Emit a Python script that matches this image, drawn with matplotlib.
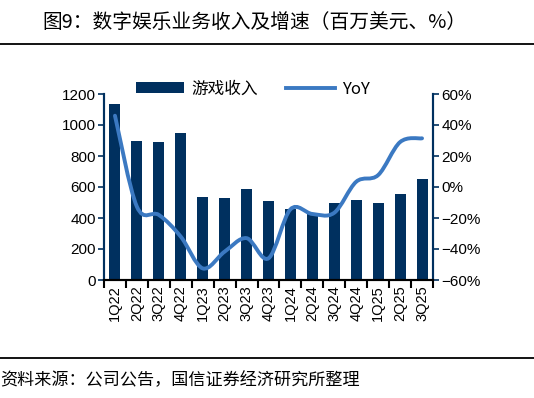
import numpy as np
import matplotlib
matplotlib.use("Agg")
import matplotlib.pyplot as plt
from matplotlib.path import Path
from matplotlib.patches import PathPatch, Patch
from matplotlib.lines import Line2D
from matplotlib.ticker import FuncFormatter, FixedLocator

plt.rcParams['font.family'] = ['Noto Sans CJK SC', 'DejaVu Sans']

# data
quarters = ['1Q22', '2Q22', '3Q22', '4Q22', '1Q23', '2Q23', '3Q23', '4Q23',
            '1Q24', '2Q24', '3Q24', '4Q24', '1Q25', '2Q25', '3Q25']
revenue = [1135, 897, 890, 948, 535, 529, 587, 510,
           458, 430, 497, 518, 497, 555, 654]
yoy = [0.46, -0.127, -0.18, -0.32, -0.525, -0.417, -0.33, -0.46,
       -0.144, -0.174, -0.166, 0.034, 0.077, 0.29, 0.314]

bar_color = '#00305f'
line_color = '#3b79c2'
tick_font = ['Liberation Sans', 'DejaVu Sans']

fig = plt.figure(figsize=(5.34, 3.98), dpi=100)
ax = fig.add_axes([104 / 534, 1 - 280 / 398, 329 / 534, 186 / 398])
ax2 = ax.twinx()

x = np.arange(len(quarters))
ax.bar(x, revenue, width=0.5, color=bar_color, zorder=2)
ax.set_xlim(-0.5, len(quarters) - 0.5)
ax.set_ylim(0, 1200)
ax.set_yticks(range(0, 1201, 200))
ax2.set_ylim(-0.6, 0.6)
ax2.set_yticks(np.linspace(-0.6, 0.6, 7))
ax2.yaxis.set_major_formatter(FuncFormatter(lambda v, p: f"{v * 100:.0f}%".replace('-', '\u2212')))


# smooth curve through the YoY points (Catmull-Rom as cubic Bezier)
def smooth_path(xs, ys):
    pts = np.column_stack([xs, ys]).astype(float)
    verts = [pts[0]]
    codes = [Path.MOVETO]
    n = len(pts)
    for i in range(n - 1):
        p0 = pts[i - 1] if i > 0 else pts[i]
        p1 = pts[i]
        p2 = pts[i + 1]
        p3 = pts[i + 2] if i + 2 < n else pts[i + 1]
        verts += [p1 + (p2 - p0) / 6, p2 - (p3 - p1) / 6, p2]
        codes += [Path.CURVE4] * 3
    return Path(verts, codes)


ax2.add_patch(PathPatch(smooth_path(x, yoy), facecolor='none', edgecolor=line_color,
                        lw=2.8, capstyle='round', zorder=3))

# ticks and spines
ax.xaxis.set_major_locator(FixedLocator(np.arange(-0.5, len(quarters), 1)))
ax.xaxis.set_minor_locator(FixedLocator(x))
ax.set_xticklabels([])
ax.set_xticklabels(quarters, minor=True, rotation=90, fontsize=10.5, family=tick_font)
ax.tick_params(axis='x', which='major', length=6, width=1.5, color='black', direction='out')
ax.tick_params(axis='x', which='minor', length=0, pad=4)
ax.tick_params(axis='y', length=4, width=1.2, color=bar_color, pad=2)
ax2.tick_params(axis='y', length=4, width=1.2, color=bar_color, pad=2)
for lab in ax.get_yticklabels() + ax2.get_yticklabels():
    lab.set_family(tick_font)
    lab.set_fontsize(11)

for a in (ax, ax2):
    a.spines['top'].set_visible(False)
    a.spines['left'].set_color(bar_color)
    a.spines['right'].set_color(bar_color)
    a.spines['left'].set_linewidth(1.5)
    a.spines['right'].set_linewidth(1.5)
    a.spines['bottom'].set_color('black')
    a.spines['bottom'].set_linewidth(1.5)

handles = [Patch(facecolor=bar_color, edgecolor='none'),
           Line2D([], [], color=line_color, lw=2.8)]
fig.legend(handles, ['游戏收入', 'YoY'], loc='center', bbox_to_anchor=(253 / 534, 1 - 89 / 398),
           ncol=2, frameon=False, fontsize=12, handlelength=2.9, handleheight=0.6,
           columnspacing=1.7, handletextpad=0.45)

# title, rules and source
fig.text(254 / 534, 1 - 22 / 398, '图9：数字娱乐业务收入及增速（百万美元、%）',
         ha='center', va='center', fontsize=14.2)
fig.add_artist(Line2D([0, 1], [1 - 43.5 / 398] * 2, color='black', lw=1.3))
fig.add_artist(Line2D([0, 1], [1 - 358 / 398] * 2, color='black', lw=1.3))
fig.text(0, 1 - 380 / 398, '资料来源：公司公告，国信证券经济研究所整理',
         ha='left', va='center', fontsize=12.3)

fig.savefig('out.png', dpi=100)
